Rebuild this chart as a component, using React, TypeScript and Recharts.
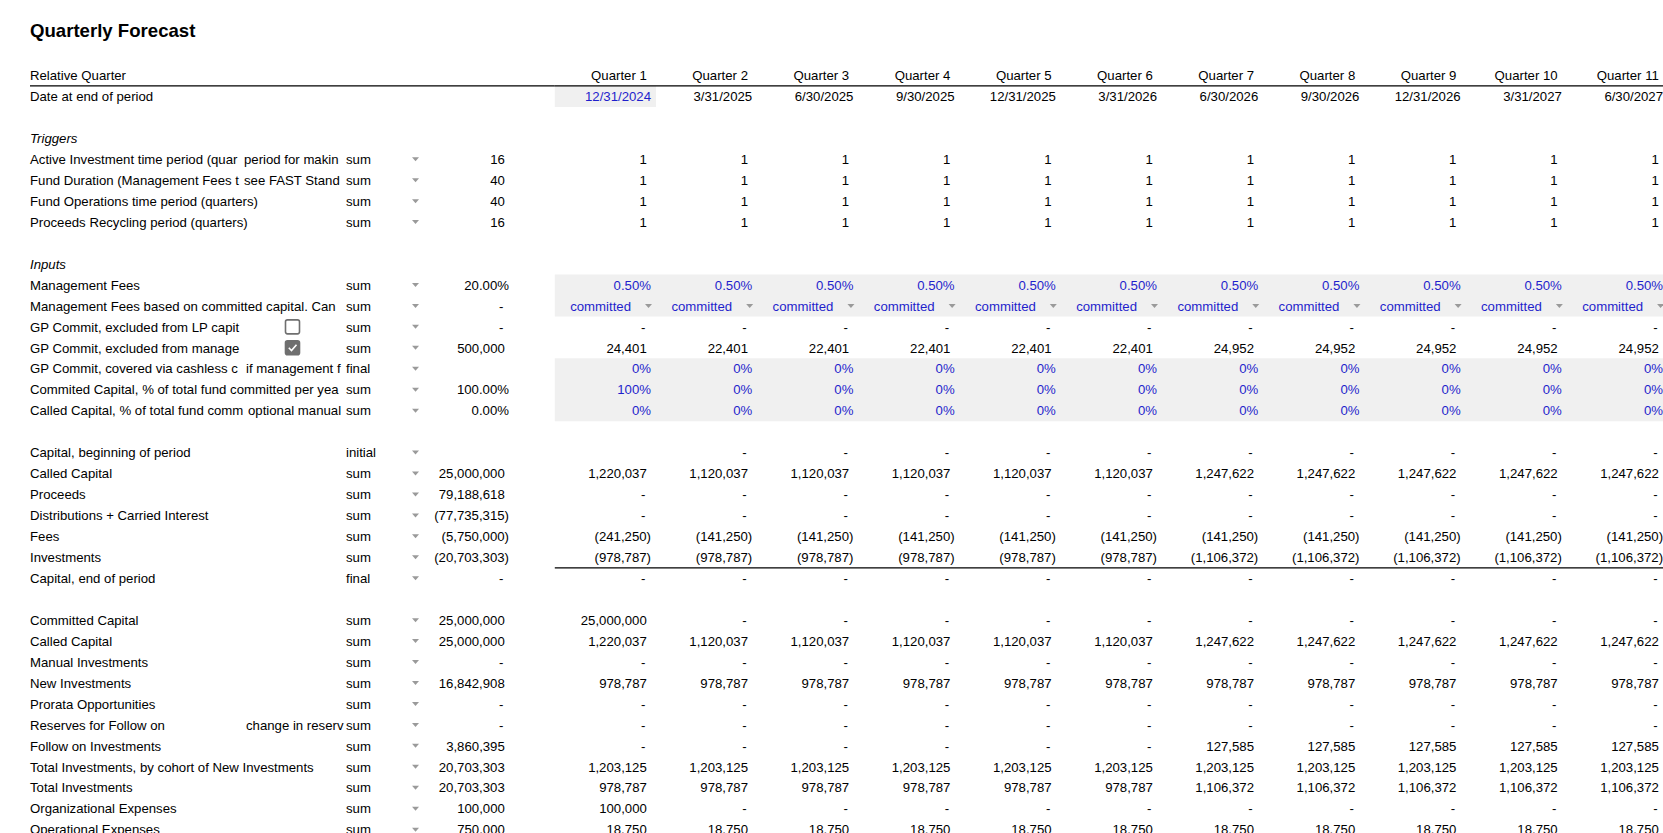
import { ScatterChart, Scatter, XAxis, YAxis, ReferenceArea, ReferenceLine } from "recharts";

const FONT = '"Liberation Sans", Arial, Helvetica, sans-serif';
const FS = 13.2;
const BLUE = "#1f1fcc";
const GRAY_FILL = "#f0f0f0";
const ARROW = "#9a9a9a";
const COL_W = 101.2;
const GRID_LEFT = 554.8;

// column headers
const quarterLabels = [
  "Quarter 1", "Quarter 2", "Quarter 3", "Quarter 4", "Quarter 5", "Quarter 6",
  "Quarter 7", "Quarter 8", "Quarter 9", "Quarter 10", "Quarter 11",
];
const periodEndDates = [
  "12/31/2024", "3/31/2025", "6/30/2025", "9/30/2025", "12/31/2025", "3/31/2026",
  "6/30/2026", "9/30/2026", "12/31/2026", "3/31/2027", "6/30/2027",
];

// triggers
const activeInvestmentFlags = [1, 1, 1, 1, 1, 1, 1, 1, 1, 1, 1];
const fundDurationFlags = [1, 1, 1, 1, 1, 1, 1, 1, 1, 1, 1];
const fundOperationsFlags = [1, 1, 1, 1, 1, 1, 1, 1, 1, 1, 1];
const recyclingFlags = [1, 1, 1, 1, 1, 1, 1, 1, 1, 1, 1];

// inputs
const managementFeeRates = [0.005, 0.005, 0.005, 0.005, 0.005, 0.005, 0.005, 0.005, 0.005, 0.005, 0.005];
const feeBasis = [
  "committed", "committed", "committed", "committed", "committed", "committed",
  "committed", "committed", "committed", "committed", "committed",
];
const gpCommitLpExcluded = [0, 0, 0, 0, 0, 0, 0, 0, 0, 0, 0];
const gpCommitFeeExcluded = [24401, 22401, 22401, 22401, 22401, 22401, 24952, 24952, 24952, 24952, 24952];
const gpCashlessShare = [0, 0, 0, 0, 0, 0, 0, 0, 0, 0, 0];
const committedShare = [1, 0, 0, 0, 0, 0, 0, 0, 0, 0, 0];
const calledShare = [0, 0, 0, 0, 0, 0, 0, 0, 0, 0, 0];

// capital account
const capitalBeginning = [null, 0, 0, 0, 0, 0, 0, 0, 0, 0, 0];
const calledCapital = [1220037, 1120037, 1120037, 1120037, 1120037, 1120037, 1247622, 1247622, 1247622, 1247622, 1247622];
const proceeds = [0, 0, 0, 0, 0, 0, 0, 0, 0, 0, 0];
const distributions = [0, 0, 0, 0, 0, 0, 0, 0, 0, 0, 0];
const fees = [-241250, -141250, -141250, -141250, -141250, -141250, -141250, -141250, -141250, -141250, -141250];
const investments = [-978787, -978787, -978787, -978787, -978787, -978787, -1106372, -1106372, -1106372, -1106372, -1106372];
const capitalEnd = [0, 0, 0, 0, 0, 0, 0, 0, 0, 0, 0];

// investments
const committedCapital = [25000000, 0, 0, 0, 0, 0, 0, 0, 0, 0, 0];
const manualInvestments = [0, 0, 0, 0, 0, 0, 0, 0, 0, 0, 0];
const newInvestments = [978787, 978787, 978787, 978787, 978787, 978787, 978787, 978787, 978787, 978787, 978787];
const prorataOpportunities = [0, 0, 0, 0, 0, 0, 0, 0, 0, 0, 0];
const reservesFollowOn = [0, 0, 0, 0, 0, 0, 0, 0, 0, 0, 0];
const followOnInvestments = [0, 0, 0, 0, 0, 0, 127585, 127585, 127585, 127585, 127585];
const totalByCohort = [1203125, 1203125, 1203125, 1203125, 1203125, 1203125, 1203125, 1203125, 1203125, 1203125, 1203125];
const totalInvestments = [978787, 978787, 978787, 978787, 978787, 978787, 1106372, 1106372, 1106372, 1106372, 1106372];
const organizationalExpenses = [100000, 0, 0, 0, 0, 0, 0, 0, 0, 0, 0];
const operationalExpenses = [18750, 18750, 18750, 18750, 18750, 18750, 18750, 18750, 18750, 18750, 18750];

type Fmt = "text" | "date" | "int" | "acct" | "pct2" | "pct0" | "basis";

interface Row {
  label?: string;
  italic?: boolean;
  note?: string;
  check?: "off" | "on";
  agg?: string;
  total?: number | null;
  totalFmt?: Fmt;
  values?: (number | string | null)[];
  fmt?: Fmt;
  blue?: "all" | "first";
}

// labels are kept as far as the sheet shows them (cells cut the overflow)
const rows: Row[] = [
  { label: "Relative Quarter", values: quarterLabels, fmt: "text" },
  { label: "Date at end of period", values: periodEndDates, fmt: "date", blue: "first" },
  {},
  { label: "Triggers", italic: true },
  { label: "Active Investment time period (quar", note: "period for makin", agg: "sum", total: 16, totalFmt: "int", values: activeInvestmentFlags, fmt: "int" },
  { label: "Fund Duration (Management Fees t", note: "see FAST Stand", agg: "sum", total: 40, totalFmt: "int", values: fundDurationFlags, fmt: "int" },
  { label: "Fund Operations time period (quarters)", agg: "sum", total: 40, totalFmt: "int", values: fundOperationsFlags, fmt: "int" },
  { label: "Proceeds Recycling period (quarters)", agg: "sum", total: 16, totalFmt: "int", values: recyclingFlags, fmt: "int" },
  {},
  { label: "Inputs", italic: true },
  { label: "Management Fees", agg: "sum", total: 0.2, totalFmt: "pct2", values: managementFeeRates, fmt: "pct2", blue: "all" },
  { label: "Management Fees based on committed capital. Can", agg: "sum", total: 0, totalFmt: "acct", values: feeBasis, fmt: "basis", blue: "all" },
  { label: "GP Commit, excluded from LP capit", check: "off", agg: "sum", total: 0, totalFmt: "acct", values: gpCommitLpExcluded, fmt: "acct" },
  { label: "GP Commit, excluded from manage", check: "on", agg: "sum", total: 500000, totalFmt: "acct", values: gpCommitFeeExcluded, fmt: "acct" },
  { label: "GP Commit, covered via cashless c", note: "if management f", agg: "final", total: null, values: gpCashlessShare, fmt: "pct0", blue: "all" },
  { label: "Commited Capital, % of total fund committed per yea", agg: "sum", total: 1, totalFmt: "pct2", values: committedShare, fmt: "pct0", blue: "all" },
  { label: "Called Capital, % of total fund comm", note: "optional manual", agg: "sum", total: 0, totalFmt: "pct2", values: calledShare, fmt: "pct0", blue: "all" },
  {},
  { label: "Capital, beginning of period", agg: "initial", total: null, values: capitalBeginning, fmt: "acct" },
  { label: "Called Capital", agg: "sum", total: 25000000, totalFmt: "acct", values: calledCapital, fmt: "acct" },
  { label: "Proceeds", agg: "sum", total: 79188618, totalFmt: "acct", values: proceeds, fmt: "acct" },
  { label: "Distributions + Carried Interest", agg: "sum", total: -77735315, totalFmt: "acct", values: distributions, fmt: "acct" },
  { label: "Fees", agg: "sum", total: -5750000, totalFmt: "acct", values: fees, fmt: "acct" },
  { label: "Investments", agg: "sum", total: -20703303, totalFmt: "acct", values: investments, fmt: "acct" },
  { label: "Capital, end of period", agg: "final", total: 0, totalFmt: "acct", values: capitalEnd, fmt: "acct" },
  {},
  { label: "Committed Capital", agg: "sum", total: 25000000, totalFmt: "acct", values: committedCapital, fmt: "acct" },
  { label: "Called Capital", agg: "sum", total: 25000000, totalFmt: "acct", values: calledCapital, fmt: "acct" },
  { label: "Manual Investments", agg: "sum", total: 0, totalFmt: "acct", values: manualInvestments, fmt: "acct" },
  { label: "New Investments", agg: "sum", total: 16842908, totalFmt: "acct", values: newInvestments, fmt: "acct" },
  { label: "Prorata Opportunities", agg: "sum", total: 0, totalFmt: "acct", values: prorataOpportunities, fmt: "acct" },
  { label: "Reserves for Follow on", note: "change in reserv", agg: "sum", total: 0, totalFmt: "acct", values: reservesFollowOn, fmt: "acct" },
  { label: "Follow on Investments", agg: "sum", total: 3860395, totalFmt: "acct", values: followOnInvestments, fmt: "acct" },
  { label: "Total Investments, by cohort of New Investments", agg: "sum", total: 20703303, totalFmt: "acct", values: totalByCohort, fmt: "acct" },
  { label: "Total Investments", agg: "sum", total: 20703303, totalFmt: "acct", values: totalInvestments, fmt: "acct" },
  { label: "Organizational Expenses", agg: "sum", total: 100000, totalFmt: "acct", values: organizationalExpenses, fmt: "acct" },
  { label: "Operational Expenses", agg: "sum", total: 750000, totalFmt: "acct", values: operationalExpenses, fmt: "acct" },
];

// note column: where each note starts
const noteX: Record<number, number> = { 4: 244, 5: 244, 14: 246, 16: 248, 31: 246 };

const fmtValue = (v: number | string, fmt: Fmt): string => {
  if (typeof v === "string") return v;
  if (fmt === "int") return String(v);
  if (fmt === "pct2") return (v * 100).toFixed(2) + "%";
  if (fmt === "pct0") return Math.round(v * 100) + "%";
  if (v === 0) return "-";
  const s = Math.abs(v).toLocaleString("en-US");
  return v < 0 ? `(${s})` : s;
};

// right padding inside a cell, accounting-style
const rightPad = (s: string, fmt: Fmt) => {
  if (s === "-") return 10.5;
  if (s.startsWith("(") || s.endsWith("%") || fmt === "date") return 5;
  return 9.2;
};

const Arrow = ({ x, y }: { x: number; y: number }) => (
  <polygon points={`${x - 3.5},${y - 2} ${x + 3.5},${y - 2} ${x},${y + 2}`} fill={ARROW} />
);

const CellShape = (props: any) => {
  const { cx, cy, payload } = props;
  if (cx == null || cy == null || !payload) return null;
  const right = cx + COL_W / 2;
  const color = payload.blue ? BLUE : "#000";
  if (payload.fmt === "basis") {
    return (
      <g>
        <text x={right - 25} y={cy + 4.7} textAnchor="end" fill={color} fontSize={FS} fontFamily={FONT}>
          {payload.text}
        </text>
        <Arrow x={right - 7.5} y={cy} />
      </g>
    );
  }
  return (
    <text x={right - rightPad(payload.text, payload.fmt)} y={cy + 4.7} textAnchor="end" fill={color} fontSize={FS} fontFamily={FONT}>
      {payload.text}
    </text>
  );
};

const Checkbox = ({ y, on }: { y: number; on: boolean }) => (
  <g>
    <rect x={285.5} y={y - 7} width={14} height={14} rx={2} fill={on ? "#6f6f6f" : "#fff"} stroke="#6f6f6f" strokeWidth={1.6} />
    {on && <polyline points={`${288.8},${y} ${291.5},${y + 2.8} ${296.5},${y - 3}`} fill="none" stroke="#fff" strokeWidth={1.6} />}
  </g>
);

const RowTick = (props: any) => {
  const { y, payload } = props;
  const r = Number(payload?.value);
  const row = rows[r];
  if (!row || !row.label) return <g />;
  const base = y + 4.7;
  const totalText = row.total == null ? "" : fmtValue(row.total, row.totalFmt || "acct");
  return (
    <g fontFamily={FONT} fontSize={FS}>
      <text x={30} y={base} fill="#000" fontStyle={row.italic ? "italic" : "normal"}>
        {row.label}
      </text>
      {row.note && (
        <text x={noteX[r] ?? 244} y={base} fill="#000">
          {row.note}
        </text>
      )}
      {row.check && <Checkbox y={y} on={row.check === "on"} />}
      {row.agg && (
        <text x={346} y={base} fill="#000">
          {row.agg}
        </text>
      )}
      {row.agg && <Arrow x={415.5} y={y} />}
      {totalText && (
        <text x={514 - rightPad(totalText, row.totalFmt || "acct")} y={base} textAnchor="end" fill="#000">
          {totalText}
        </text>
      )}
      {r === 0 && <line x1={30} x2={GRID_LEFT} y1={y + 10.5} y2={y + 10.5} stroke="#000" strokeWidth={1.2} />}
    </g>
  );
};

const rowIndex = rows.map((_, i) => i);

const cells = rows.flatMap((row, r) =>
  (row.values || []).flatMap((v, i) =>
    v == null
      ? []
      : [
          {
            x: i + 1,
            y: r,
            text: fmtValue(v, row.fmt || "acct"),
            fmt: row.fmt,
            blue: row.blue === "all" || (row.blue === "first" && i === 0),
          },
        ]
  )
);

export default function App() {
  return (
    <div
      style={{
        position: "absolute",
        left: 0,
        top: 0,
        width: 1663,
        height: 833,
        overflow: "hidden",
        background: "#fff",
        fontFamily: FONT,
      }}
    >
      <div style={{ position: "absolute", left: 30, top: 20, fontSize: 18.6, fontWeight: 700, lineHeight: "22px", color: "#000" }}>
        Quarterly Forecast
      </div>
      <ScatterChart width={1663} height={833} margin={{ top: 65, right: 0, bottom: 0, left: 0 }}>
        <XAxis type="number" dataKey="x" domain={[0.5, 11.45]} allowDataOverflow hide />
        <YAxis
          type="number"
          dataKey="y"
          domain={[-0.5, 36.16]}
          reversed
          allowDataOverflow
          ticks={rowIndex}
          interval={0}
          width={GRID_LEFT}
          axisLine={false}
          tickLine={false}
          tick={(p: any) => <RowTick {...p} />}
        />
        <ReferenceArea x1={0.5} x2={1.5} y1={0.5} y2={1.5} fill={GRAY_FILL} fillOpacity={1} stroke="none" />
        <ReferenceArea x1={0.5} x2={11.45} y1={9.5} y2={11.5} fill={GRAY_FILL} fillOpacity={1} stroke="none" />
        <ReferenceArea x1={0.5} x2={11.45} y1={13.5} y2={16.5} fill={GRAY_FILL} fillOpacity={1} stroke="none" />
        <ReferenceLine y={0.5} stroke="#000" strokeWidth={1.2} />
        <ReferenceLine y={23.5} stroke="#000" strokeWidth={1.2} />
        <Scatter data={cells} shape={(p: any) => <CellShape {...p} />} isAnimationActive={false} />
      </ScatterChart>
    </div>
  );
}
